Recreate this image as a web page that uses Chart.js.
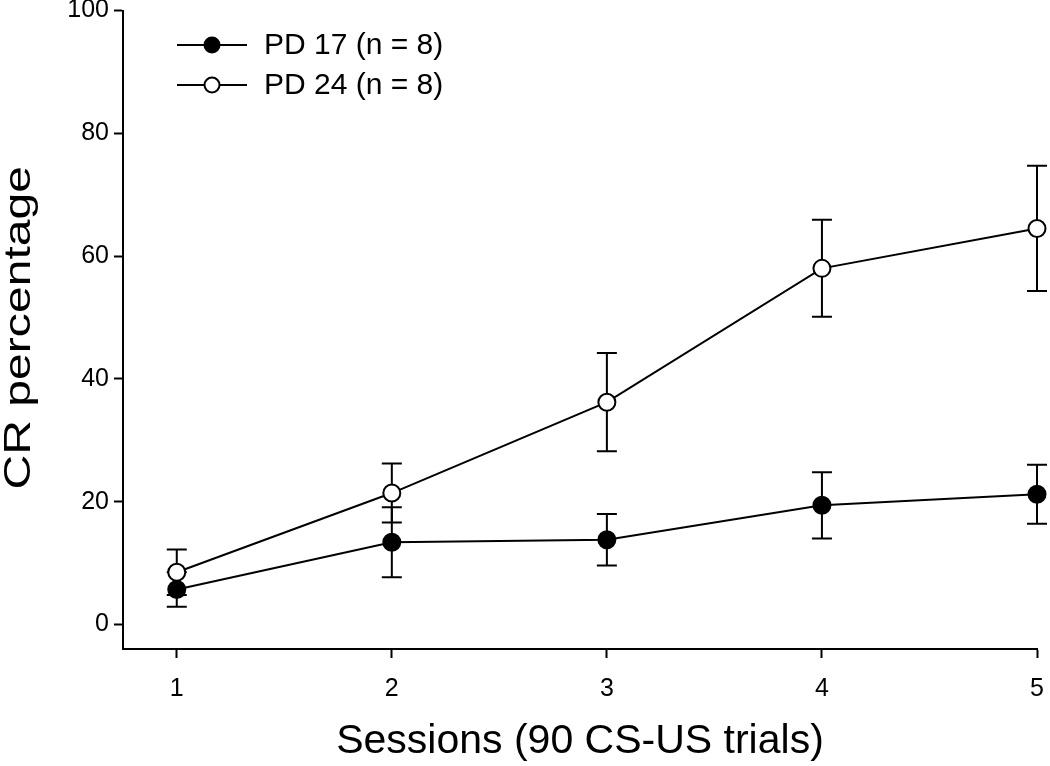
<!DOCTYPE html>
<html>
<head>
<meta charset="utf-8">
<script src="https://cdn.jsdelivr.net/npm/chart.js@4"></script>
<style>
  html, body { margin: 0; padding: 0; background: #fff; }
  #wrap { width: 1050px; height: 766px; }
</style>
</head>
<body>
<div id="wrap"><canvas id="crChart" width="1050" height="766"></canvas></div>
<script>
// sessions on x axis
const sessions = [1, 2, 3, 4, 5];
const xTicks = [1, 2, 3, 4, 5];
const yTicks = [0, 20, 40, 60, 80, 100];

// CR percentage means and SEM
const pd17Mean = [5.7, 13.4, 13.8, 19.4, 21.2];
const pd17Err = [2.8, 5.7, 4.2, 5.4, 4.8];
const pd24Mean = [8.5, 21.4, 36.2, 58.0, 64.5];
const pd24Err = [3.7, 4.8, 8.0, 7.9, 10.2];

const seriesLabels = ['PD 17 (n = 8)', 'PD 24 (n = 8)'];
const seriesFill = ['#000', '#fff'];
const yTitle = 'CR percentage';
const xTitle = 'Sessions (90 CS-US trials)';
const FONT = '"Liberation Sans", Arial, sans-serif';

// error bars are drawn before the markers so open circles stay white
const errorBars = {
    id: 'errorBars',
    beforeDatasetsDraw(chart) {
        const c = chart.ctx;
        const xs = chart.scales.x, ys = chart.scales.y;
        c.save();
        c.strokeStyle = '#000';
        c.lineWidth = 2;
        chart.data.datasets.forEach(ds => {
            ds.errors.forEach((e, i) => {
                const px = xs.getPixelForValue(ds.data[i].x);
                const top = ys.getPixelForValue(ds.data[i].y + e);
                const bot = ys.getPixelForValue(ds.data[i].y - e);
                c.beginPath();
                c.moveTo(px, top); c.lineTo(px, bot);
                c.moveTo(px - 10, top); c.lineTo(px + 10, top);
                c.moveTo(px - 10, bot); c.lineTo(px + 10, bot);
                c.stroke();
            });
        });
        c.restore();
    }
};

// legend with line + marker like the original figure, plus the
// (slightly stretched) y axis title
const lineLegend = {
    id: 'lineLegend',
    afterDraw(chart) {
        const c = chart.ctx;
        c.save();
        seriesLabels.forEach((label, i) => {
            const y = 45 + i * 40;
            c.strokeStyle = '#000';
            c.lineWidth = 2;
            c.beginPath();
            c.moveTo(177, y); c.lineTo(247, y);
            c.stroke();
            c.beginPath();
            c.arc(212, y, 7.5, 0, Math.PI * 2);
            c.fillStyle = seriesFill[i];
            c.fill();
            c.stroke();
            c.fillStyle = '#000';
            c.font = '30px ' + FONT;
            c.textBaseline = 'middle';
            c.fillText(label, 264, y + 1);
        });
        const area = chart.chartArea;
        c.translate(20, (area.top + area.bottom) / 2 - 2);
        c.rotate(-Math.PI / 2);
        c.scale(1.3, 1);
        c.font = '37px ' + FONT;
        c.textAlign = 'center';
        c.textBaseline = 'middle';
        c.fillStyle = '#000';
        c.fillText(yTitle, 0, 0);
        c.restore();
    }
};

function toPoints(ys) {
    return sessions.map((s, i) => ({ x: s, y: ys[i] }));
}

function lineSet(label, ys, errs, fill) {
    return {
        label: label,
        data: toPoints(ys),
        errors: errs,
        borderColor: '#000',
        borderWidth: 2,
        pointRadius: 8.5,
        pointBorderWidth: 2,
        pointBackgroundColor: fill,
        pointBorderColor: '#000',
        tension: 0,
        clip: false
    };
}

new Chart(document.getElementById('crChart'), {
    type: 'line',
    data: {
        datasets: [
            lineSet(seriesLabels[1], pd24Mean, pd24Err, seriesFill[1]),
            lineSet(seriesLabels[0], pd17Mean, pd17Err, seriesFill[0])
        ]
    },
    options: {
        responsive: false,
        animation: false,
        layout: { padding: { top: 10, right: 13, left: 0, bottom: 0 } },
        plugins: { legend: { display: false }, tooltip: { enabled: false } },
        scales: {
            x: {
                type: 'linear',
                min: 0.75,
                max: 5,
                afterBuildTicks: s => { s.ticks = xTicks.map(v => ({ value: v })); },
                afterFit: s => { s.height = 117; s.paddingLeft = 0; s.paddingRight = 0; },
                grid: { drawOnChartArea: false, drawTicks: true, tickLength: 9, tickWidth: 2, tickColor: '#000' },
                border: { display: true, color: '#000', width: 2 },
                ticks: { color: '#000', font: { family: FONT, size: 25 }, padding: 16, maxRotation: 0 },
                title: {
                    display: true,
                    text: xTitle,
                    color: '#000',
                    font: { family: FONT, size: 41 },
                    padding: { top: 8, bottom: 0 }
                }
            },
            y: {
                min: -4,
                max: 100,
                afterBuildTicks: s => { s.ticks = yTicks.map(v => ({ value: v })); },
                afterFit: s => { s.width = 123; s.paddingTop = 0; s.paddingBottom = 0; },
                grid: { drawOnChartArea: false, drawTicks: true, tickLength: 9, tickWidth: 2, tickColor: '#000' },
                border: { display: true, color: '#000', width: 2 },
                ticks: { color: '#000', font: { family: FONT, size: 25 }, padding: 5 },
                title: { display: false }
            }
        }
    },
    plugins: [errorBars, lineLegend]
});
</script>
</body>
</html>
